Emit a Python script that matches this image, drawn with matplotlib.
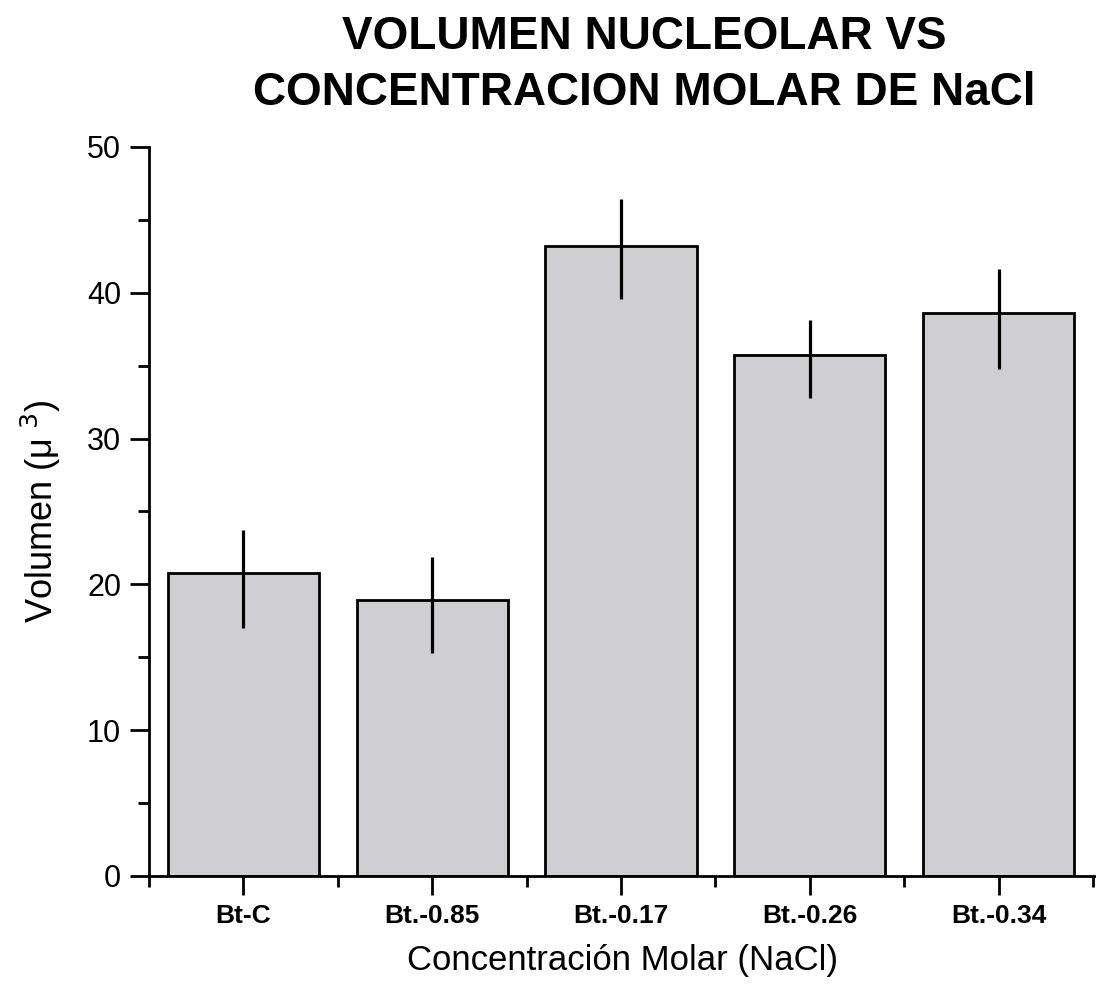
import numpy as np
import matplotlib
matplotlib.use("Agg")
import matplotlib.pyplot as plt
from matplotlib.ticker import MultipleLocator, FixedLocator

plt.rcParams['font.family'] = ['Liberation Sans', 'DejaVu Sans']

# mean nucleolar volume and error limits per treatment
categories = ["Bt-C", "Bt.-0.85", "Bt.-0.17", "Bt.-0.26", "Bt.-0.34"]
volumen = [20.8, 18.9, 43.2, 35.7, 38.6]
err_up = [2.9, 3.0, 3.2, 2.4, 3.0]
err_down = [3.8, 3.6, 3.6, 2.9, 3.8]

x = np.arange(1, len(categories) + 1)

fig = plt.figure(figsize=(10.96, 9.85), dpi=100)
ax = fig.add_axes([0.1359, 0.1107, 0.864, 0.7401])

ax.bar(x, volumen, width=0.8, color="#cfcfd3", edgecolor="black", linewidth=2, zorder=2)
ax.errorbar(x, volumen, yerr=[err_down, err_up], fmt="none", ecolor="black",
            elinewidth=2.3, capsize=0, zorder=3)

ax.set_xlim(0.5, 5.515)
ax.set_ylim(0, 50)

ax.spines["top"].set_visible(False)
ax.spines["right"].set_visible(False)
ax.spines["left"].set_linewidth(2)
ax.spines["bottom"].set_linewidth(2)

ax.set_xticks(x)
ax.set_xticklabels(categories, fontsize=19, fontweight="bold")
ax.xaxis.set_minor_locator(FixedLocator(np.arange(0.5, 6.0, 1.0)))
ax.yaxis.set_major_locator(MultipleLocator(10))
ax.yaxis.set_minor_locator(MultipleLocator(5))
ax.tick_params(axis="both", which="major", direction="out", length=14, width=2, pad=6)
ax.tick_params(axis="both", which="minor", direction="out", length=8, width=2)
ax.tick_params(axis="y", which="major", labelsize=22, pad=6)

ax.set_xlabel("Concentración Molar (NaCl)", fontsize=25, labelpad=12)
ax.set_ylabel("Volumen (μ$^{\\ 3}$)", fontsize=26, labelpad=17)

fig.text(0.588, 0.985, "VOLUMEN NUCLEOLAR VS\nCONCENTRACION MOLAR DE NaCl",
         ha="center", va="top", fontsize=33, fontweight="bold", linespacing=1.35)

fig.savefig("out.png", dpi=100)
